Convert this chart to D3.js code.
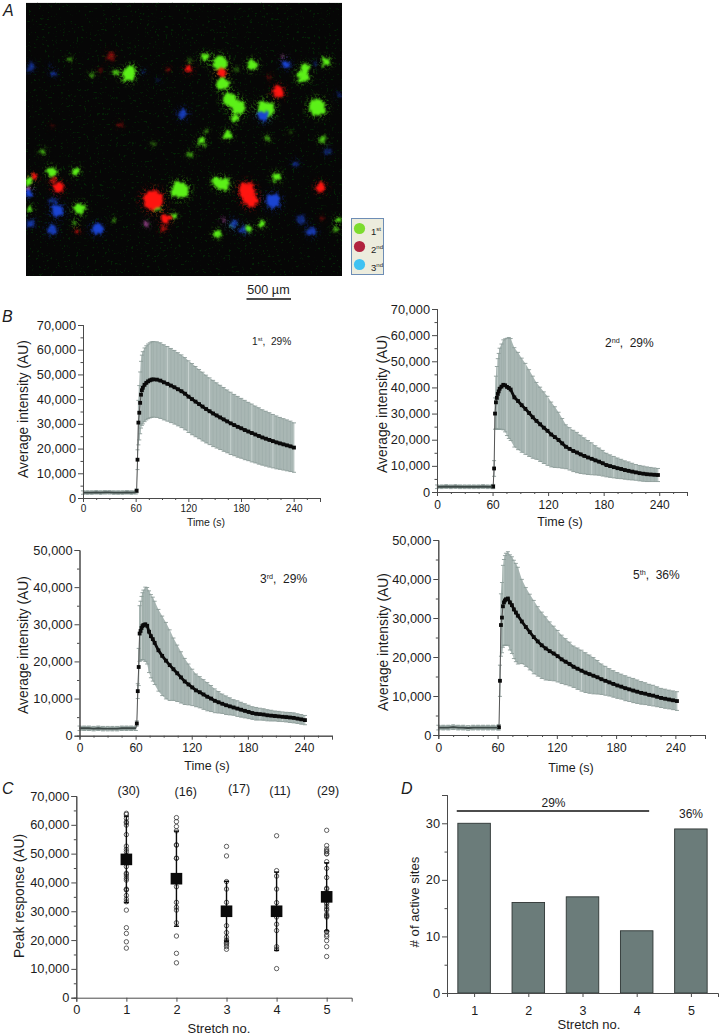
<!DOCTYPE html>
<html><head><meta charset="utf-8">
<script src="https://cdn.jsdelivr.net/npm/d3@7/dist/d3.min.js"></script>
<style>
html,body{margin:0;padding:0;background:#fff}
svg{display:block}
text{font-family:"Liberation Sans",Arial,sans-serif;fill:#1c1c1c}
</style></head><body>
<svg id="fig" width="720" height="1035"></svg>
<script>
const greenSpots=[[660,190,22],[385,225,19],[395,205,10],[615,172,13],[757,195,15],[668,250,19],[978,185,12],[910,228,18],[915,205,13],[690,300,21],[715,322,21],[706,355,12],[797,327,25],[952,322,25],[683,405,12],[605,425,11],[570,462,9,.6],[968,418,11,.75],[803,415,8,.6],[620,392,5,.5],[460,432,7,.35],[128,455,9,.6],[155,516,14],[228,515,11],[85,543,13],[540,570,25],[670,552,19],[650,545,12],[830,530,12],[472,620,12],[238,626,16],[88,628,9],[520,648,8],[225,670,6],[342,660,5,.6],[650,702,10],[745,686,8],[785,672,9],[695,678,5],[1015,660,8],[1010,686,8,.7],[350,218,9,.8],[275,225,7,.6],[210,178,6,.6],[870,395,6,.35],[710,208,7,.35],[570,183,6,.4]];
const redSpots=[[458,600,29],[740,572,23],[752,600,21],[835,275,16],[962,562,13],[175,562,15],[160,540,8,.6],[100,530,9],[665,218,13],[566,207,9],[497,655,13],[488,688,7,.75],[232,692,6,.75],[332,168,12,.42],[360,375,7,.38],[155,378,6,.22],[808,230,4,.5],[505,208,4,.5],[300,210,5,.3],[966,655,6,.28]];
const blueSpots=[[820,603,21],[172,632,18],[158,600,10,.5],[292,686,16],[155,690,14,.85],[92,670,11,.75],[548,342,14,.85],[790,348,15],[887,490,9,.55],[982,455,10,.45],[90,203,11,.6],[160,220,7,.65],[150,197,5,.4],[858,192,11],[1018,285,9,.4],[700,672,13,.7],[730,690,12,.7],[905,660,11,.55],[935,695,13,.8],[85,578,11],[475,240,7,.3],[945,190,7,.4],[430,215,5,.7]];
const pinkSpots=[[85,565,7],[440,672,7,.7],[670,660,4,.7],[850,172,5,.7]];
const legendItems=[["1","st","#7cdc2e"],["2","nd","#b1233f"],["3","nd","#3fc2f2"]];

// ---------- Panels B: shared time base (s), then mean and SD per stretch (x 1000 AU)
const times=[0,5,10,15,20,25,30,35,40,45,50,55,60,61,62,63,64,65,66,67,68,70,72,74,76,78,80,84,88,92,96,100,104,108,112,116,120,124,128,132,136,140,144,148,152,156,160,164,168,172,176,180,184,188,192,196,200,204,208,212,216,220,224,228,232,236,240];
const mean1=[2.2,2.2,2.2,2.3,2.2,2.3,2.3,2.2,2.2,2.2,2.3,2.2,2.3,2.9,15.5,30.5,34.5,38.5,41.8,43.6,44.6,45.8,46.6,47.2,47.6,47.9,48.0,47.9,47.5,46.8,46.2,45.5,44.8,44.0,43.2,42.2,41.0,40.0,39.0,38.0,37.0,36.0,35.1,34.2,33.4,32.6,31.8,31.0,30.2,29.5,28.8,28.2,27.5,26.9,26.3,25.7,25.1,24.5,24.0,23.5,23.0,22.5,22.1,21.7,21.3,20.9,20.4];
const sd1=[.7,.7,.7,.7,.7,.7,.7,.7,.7,.7,.7,.7,.7,.8,4,9,11,12.5,13.5,14.2,14.6,14.9,15.0,15.1,15.2,15.3,15.3,15.3,15.3,15.2,15.1,15.0,14.9,14.8,14.7,14.6,14.5,14.4,14.2,14.0,13.9,13.7,13.5,13.4,13.2,13.0,12.9,12.7,12.6,12.4,12.3,12.1,12.0,11.8,11.7,11.5,11.4,11.2,11.1,11.0,10.8,10.7,10.5,10.4,10.3,10.2,10.0];
const mean2=[2,2,2.1,2,2.1,2,2,2,2,2,2.1,2,2,2.1,9,30,34.3,36,37.5,38.5,39.5,40.3,41,40.8,40.2,39.8,39.2,36.2,34.8,33.2,31.8,30.2,28.6,27.2,25.9,24.6,23.4,22,21,19.9,18.6,17.3,16.5,15.7,15.1,14.4,13.8,13.2,12.7,12.1,11.6,11,10.3,9.9,9.5,9.1,8.8,8.4,8.1,7.8,7.5,7.2,7.0,6.8,6.7,6.6,6.5];
const sd2=[.7,.7,.7,.7,.7,.7,.7,.7,.7,.7,.7,.7,.7,.8,3,6,10,12,13.5,14.5,15.5,16.3,17.2,17.8,18.6,19.3,19.5,19.0,18.6,18.0,17.4,16.6,15.7,14.7,14.2,13.7,13.2,12.4,11.6,10.6,9.5,8.4,8.1,7.9,7.7,7.3,6.9,6.5,6.1,5.6,5.2,4.9,4.5,4.3,4.1,3.9,3.7,3.5,3.4,3.2,3.0,2.95,2.9,2.8,2.7,2.6,2.5];
const mean3=[2,2,2,1.9,2,1.9,1.9,1.9,1.9,2,2,2,2,3.3,12,18.5,27.5,28.2,29,29.5,29.8,30,29.6,28,26.8,26,25,23,21.5,20.2,19,17.9,16.8,15.7,14.6,13.8,13,12.2,11.7,11.1,10.5,10,9.4,9,8.6,8.2,7.9,7.6,7.3,7,6.7,6.4,6.1,5.9,5.8,5.7,5.5,5.4,5.3,5.2,5.1,5,4.9,4.8,4.6,4.4,4.2];
const sd3=[.6,.6,.6,.6,.6,.6,.6,.6,.6,.6,.6,.6,.6,.7,2,5,7.5,8,8.5,9,9.4,10,10.3,11,11.2,11.3,11.2,11,10.7,10.3,9.5,8.4,7.6,6.9,6.2,5.5,4.9,4.4,4.2,4,3.8,3.5,3.2,2.9,2.6,2.5,2.3,2.1,2.1,2,1.9,1.8,1.7,1.7,1.6,1.55,1.5,1.45,1.35,1.35,1.3,1.3,1.35,1.35,1.3,1.3,1.25];
const mean5=[1.9,1.9,1.9,2,1.9,1.9,1.8,1.9,1.9,1.9,1.9,1.9,1.9,2,13.9,28.2,30.1,33,34,34.5,34.8,35,34,33.3,32.2,31.4,30.6,29.1,27.7,26.4,25.1,24,23,22.2,21.5,20.9,20.2,19.4,18.8,18.2,17.5,17,16.5,16,15.6,15.2,14.8,14.3,13.9,13.5,13.1,12.7,12.4,12,11.7,11.4,11.1,10.8,10.6,10.3,10.1,9.8,9.5,9.3,9.1,8.9,8.7];
const sd5=[.6,.6,.6,.6,.6,.6,.6,.6,.6,.6,.6,.6,.6,.7,4,8,9,10.5,11,11.5,11.8,12,12.2,12.4,12.6,12.6,12.4,10.8,10.1,9.7,9.4,8.9,8.5,8.1,7.5,7.0,6.6,6.2,5.9,5.6,5.3,5.3,5.25,5.1,4.9,4.65,4.3,3.9,3.7,3.5,3.4,3.3,3.2,3.2,3.1,3.1,3.0,2.9,2.8,2.7,2.65,2.55,2.45,2.45,2.4,2.4,2.4];
const timeTicks=[0,60,120,180,240];
const timeMinorTicks=[15,30,45,75,90,105,135,150,165,195,210,225,255,270];

// ---------- Panel C: individual peak responses per stretch (AU), means, SDs
const stretchNos=[1,2,3,4,5];
const peaks1=[64000,63600,62200,61000,60700,59900,56600,52600,51500,50700,49500,48300,47200,45500,43200,42900,42200,41400,40800,37700,37500,37400,35500,34200,33300,30400,24300,22300,19400,17200];
const peaks2=[62500,61100,59400,57900,53000,53000,48400,48400,38500,33100,31400,30400,26000,21400,15400,12100];
const peaks3=[52500,49200,40300,37700,33100,31000,29000,25000,22600,21000,20000,19700,19200,18800,18300,17700,16800];
const peaks4=[56200,44100,42200,37700,33000,28000,25500,23300,17700,16900,10100];
const peaks5=[58100,52800,51600,51000,50000,49900,47200,44900,41700,38000,37700,36400,33000,32500,31600,30400,29000,28500,28000,23000,22900,21800,21200,19800,17700,14300,50700,28300,30800];
const peakMeans=[48000,41300,30000,30000,35000];
const peakSDs=[15000,16500,10400,13600,11800];
const siteCountLabels=["(30)","(16)","(17)","(11)","(29)"];

// ---------- Panel D
const activeSites=[30,16,17,11,29];

const svg=d3.select("#fig");
const fmt=d3.format(",");
function label(t,x,y,size,opt={}){
  const e=svg.append("text").attr("x",x).attr("y",y).attr("font-size",size).attr("text-anchor",opt.anchor||"middle").text(t);
  if(opt.italic)e.attr("font-style","italic");
  if(opt.rotate)e.attr("transform",`rotate(-90 ${x} ${y})`);
  return e;
}
function axisStyle(g){
  g.selectAll("path.domain").attr("stroke","#4a4a4a").attr("stroke-width",1);
  g.selectAll(".tick line").attr("stroke","#4a4a4a").attr("stroke-width",1);
  g.selectAll("text").attr("fill","#1c1c1c");
}
function drawAxes(x,y,o){
  const gy=svg.append("g").attr("transform",`translate(${o.x0},0)`);
  gy.append("g").call(d3.axisLeft(y).tickValues(o.yMinor).tickSize(2.5).tickFormat("")).call(axisStyle);
  gy.append("g").call(d3.axisLeft(y).tickValues(o.yTicks).tickSize(5).tickPadding(2).tickFormat(o.yFmt||fmt))
    .call(axisStyle).selectAll("text").attr("font-size",o.yFont).attr("font-family",'"Liberation Sans"');
  const gx=svg.append("g").attr("transform",`translate(0,${o.y0})`);
  if(o.xMinor.length) gx.append("g").call(d3.axisBottom(x).tickValues(o.xMinor).tickSize(2).tickFormat("")).call(axisStyle);
  gx.append("g").call(d3.axisBottom(x).tickValues(o.xTicks).tickSize(o.xTickLen||4).tickPadding(o.xPad||3).tickFormat(d3.format("d")))
    .call(axisStyle).selectAll("text").attr("font-size",o.xFont).attr("font-family",'"Liberation Sans"');
}

// ---------- A: micrograph
const ax=d3.scaleLinear().domain([78,1026]).range([26,342]);
const ay=d3.scaleLinear().domain([8,828]).range([2.7,276]);
const ar=d3.scaleLinear().domain([0,948]).range([0,316]);
const defs=svg.append("defs");
defs.append("clipPath").attr("id","imgclip").append("rect").attr("x",26).attr("y",2.7).attr("width",316).attr("height",273.3);
const fR={filterUnits:"userSpaceOnUse",x:26,y:2,width:316,height:275};
// compact cores with rough edges
const fc=defs.append("filter").attr("id","spotCore").attr("color-interpolation-filters","sRGB");
Object.entries(fR).forEach(([k,v])=>fc.attr(k,v));
fc.append("feTurbulence").attr("type","fractalNoise").attr("baseFrequency",.2).attr("numOctaves",2).attr("seed",7).attr("result","n");
fc.append("feDisplacementMap").attr("in","SourceGraphic").attr("in2","n").attr("scale",7).attr("xChannelSelector","R").attr("yChannelSelector","G").attr("result","d");
fc.append("feGaussianBlur").attr("in","d").attr("stdDeviation",.9);
// halos broken into speckle by a noise mask
const fh=defs.append("filter").attr("id","spotHalo").attr("color-interpolation-filters","sRGB");
Object.entries(fR).forEach(([k,v])=>fh.attr(k,v));
fh.append("feGaussianBlur").attr("in","SourceGraphic").attr("stdDeviation",2.6).attr("result","b");
fh.append("feTurbulence").attr("type","fractalNoise").attr("baseFrequency",.45).attr("numOctaves",2).attr("seed",3);
fh.append("feColorMatrix").attr("type","matrix").attr("values","0 0 0 0 1  0 0 0 0 1  0 0 0 0 1  9 0 0 0 -4.6").attr("result","m");
fh.append("feComposite").attr("in","b").attr("in2","m").attr("operator","in").attr("result","c");
fh.append("feGaussianBlur").attr("in","c").attr("stdDeviation",.6);
// faint grain across the tissue band
const sp=defs.append("filter").attr("id","speckle").attr("color-interpolation-filters","sRGB");
Object.entries(fR).forEach(([k,v])=>sp.attr(k,v));
sp.append("feTurbulence").attr("type","fractalNoise").attr("baseFrequency",.38).attr("numOctaves",2).attr("seed",11);
sp.append("feColorMatrix").attr("type","matrix").attr("values","0 0 0 0 0.02  0 0 0 0 0.2  0 0 0 0 0.03  9 0 0 0 -5.9");
sp.append("feGaussianBlur").attr("stdDeviation",.55);
const img=svg.append("g").attr("clip-path","url(#imgclip)");
img.append("rect").attr("x",26).attr("y",2.7).attr("width",316).attr("height",273.3).attr("fill","#060606");
img.append("rect").attr("x",26).attr("y",ay(145)).attr("width",316).attr("height",ay(715)-ay(145)).attr("fill","#000").attr("filter","url(#speckle)").attr("opacity",.7);
const sets=[[greenSpots,"#5cf018"],[blueSpots,"#1a44d2"],[redSpots,"#ff1510"],[pinkSpots,"#c85ab8"]];
const halo=img.append("g").attr("filter","url(#spotHalo)");
sets.forEach(([data,c])=>halo.selectAll(null).data(data).join("circle")
  .attr("cx",d=>ax(d[0])).attr("cy",d=>ay(d[1])).attr("r",d=>ar(d[2]*1.3+7)).attr("fill",c).attr("opacity",d=>.34*(d[3]||1)));
const core=img.append("g").attr("filter","url(#spotCore)");
sets.forEach(([data,c])=>core.selectAll(null).data(data).join("circle")
  .attr("cx",d=>ax(d[0])).attr("cy",d=>ay(d[1])).attr("r",d=>ar(d[2])).attr("fill",c).attr("opacity",d=>d[3]||1));
// legend
svg.append("rect").attr("x",351.5).attr("y",218.5).attr("width",32).attr("height",56).attr("fill","#ececdd").attr("stroke","#6d8db5").attr("stroke-width",1);
legendItems.forEach((d,i)=>{
  const cy=228.5+i*18;
  svg.append("circle").attr("cx",359.5).attr("cy",cy).attr("r",5.6).attr("fill",d[2]);
  const t=svg.append("text").attr("x",371).attr("y",cy+6).attr("font-size",9.5).attr("fill","#444");
  t.append("tspan").text(d[0]);
  t.append("tspan").attr("font-size",6).attr("dy",-3.5).text(d[1]);
});
label("500 µm",268.5,294,12.6);
svg.append("line").attr("x1",246.5).attr("x2",291).attr("y1",299).attr("y2",299).attr("stroke","#111").attr("stroke-width",1.6);

// ---------- B: time courses
const panelsB=[
 {mean:mean1,sd:sd1,yMax:70,x0:83,x240:294,yTop:325,y0:498,xEnd:320,yFont:12.8,xFont:10,yT:[28,409,13.8],tT:[206,526,10.5],ann:["1","st",",  29%",252,345,10.2]},
 {mean:mean2,sd:sd2,yMax:70,x0:437,x240:658,yTop:309,y0:492,xEnd:687,yFont:12.8,xFont:12,yT:[387,404,13.8],tT:[560,526,12.5],ann:["2","nd",",  29%",605,347,12]},
 {mean:mean3,sd:sd3,yMax:50,x0:79.5,x240:305,yTop:550,y0:735.7,xEnd:332,yFont:12.8,xFont:12,yT:[28,645,13.8],tT:[207,770,12.5],ann:["3","rd",",  29%",260,583,12]},
 {mean:mean5,sd:sd5,yMax:50,x0:438.3,x240:677,yTop:540,y0:735,xEnd:705,yFont:12.8,xFont:12,yT:[388,642,13.8],tT:[571,772,12.5],ann:["5","th",",  36%",633,579,12]}
];
panelsB.forEach(p=>{
  const x=d3.scaleLinear().domain([0,240]).range([p.x0,p.x240]);
  const y=d3.scaleLinear().domain([0,p.yMax*1000]).range([p.y0,p.yTop]);
  const pts=times.map((t,i)=>({t,m:p.mean[i]*1000,s:p.sd[i]*1000}));
  const area=d3.area().x(d=>x(d.t)).y0(d=>y(d.m-d.s)).y1(d=>y(d.m+d.s));
  svg.append("path").attr("d",area(pts)).attr("fill","#a9b7b4");
  const g=svg.append("g");
  g.selectAll("line.e").data(pts).join("line").attr("class","e")
    .attr("x1",d=>x(d.t)).attr("x2",d=>x(d.t)).attr("y1",d=>y(d.m-d.s)).attr("y2",d=>y(d.m+d.s))
    .attr("stroke",(d,i)=>i%6===0?"#c6d0ce":"#a0afac").attr("stroke-width",1);
  [1,-1].forEach(sign=>{
    g.selectAll(null).data(pts).join("line")
      .attr("x1",d=>x(d.t)-2).attr("x2",d=>x(d.t)+2).attr("y1",d=>y(d.m+sign*d.s)).attr("y2",d=>y(d.m+sign*d.s))
      .attr("stroke","#8c9c99").attr("stroke-width",.9);
  });
  svg.append("path").attr("d",d3.line().x(d=>x(d.t)).y(d=>y(d.m))(pts)).attr("fill","none").attr("stroke","#555").attr("stroke-width",1);
  svg.append("path").attr("d",d3.line().x(d=>x(d.t)).y(d=>y(d.m))(pts.filter(d=>d.t>=68))).attr("fill","none").attr("stroke","#0c0c0c").attr("stroke-width",2.8);
  const ms=3.8;
  svg.append("g").selectAll("rect").data(pts.filter(d=>d.t>60)).join("rect")
    .attr("x",d=>x(d.t)-ms/2).attr("y",d=>y(d.m)-ms/2).attr("width",ms).attr("height",ms).attr("fill","#0a0a0a");
  svg.append("path").attr("d",d3.line().x(d=>x(d.t)).y(d=>y(d.m))(pts.filter(d=>d.t<=60))).attr("fill","none").attr("stroke","#3c4846").attr("stroke-width",1.8);
  const xa=d3.scaleLinear().domain([0,270]).range([p.x0,p.xEnd]);
  drawAxes(xa,y,{x0:p.x0,y0:p.y0,yTicks:d3.range(0,p.yMax*1000+1,10000),yMinor:d3.range(5000,p.yMax*1000,10000),
    xTicks:timeTicks,xMinor:timeMinorTicks,yFont:p.yFont,xFont:p.xFont,xPad:p.xFont>10?4:3});
  label("Average intensity (AU)",p.yT[0],p.yT[1],p.yT[2],{rotate:true});
  label("Time (s)",p.tT[0],p.tT[1],p.tT[2]);
  const a=p.ann,t=svg.append("text").attr("x",a[3]).attr("y",a[4]).attr("font-size",a[5]);
  t.append("tspan").text(a[0]);
  t.append("tspan").attr("font-size",a[5]*.6).attr("dy",-4).text(a[1]);
  t.append("tspan").attr("dy",4).attr("xml:space","preserve").style("white-space","pre").text(a[2]);
});

// ---------- C: peak responses
{
  const x=d3.scaleLinear().domain([0,5.5]).range([76.3,351.7]);
  const y=d3.scaleLinear().domain([0,70000]).range([997.7,796]);
  const all=[peaks1,peaks2,peaks3,peaks4,peaks5];
  all.forEach((vals,i)=>{
    svg.append("g").selectAll("circle").data(vals).join("circle")
      .attr("cx",x(stretchNos[i])).attr("cy",d=>y(d)).attr("r",2.2).attr("fill","none").attr("stroke","#3a3a3a").attr("stroke-width",.8);
    const m=peakMeans[i],s=peakSDs[i],cx=x(stretchNos[i]);
    const g=svg.append("g").attr("stroke","#0a0a0a").attr("stroke-width",1.4);
    g.append("line").attr("x1",cx).attr("x2",cx).attr("y1",y(m-s)).attr("y2",y(m+s));
    [m-s,m+s].forEach(v=>g.append("line").attr("x1",cx-2.5).attr("x2",cx+2.5).attr("y1",y(v)).attr("y2",y(v)));
    svg.append("rect").attr("x",cx-5.8).attr("y",y(m)-5.8).attr("width",11.6).attr("height",11.6).attr("fill","#0a0a0a");
  });
  drawAxes(x,y,{x0:76.3,y0:997.7,yTicks:d3.range(0,70001,10000),yMinor:d3.range(5000,70000,10000),xTicks:stretchNos.concat([0]),xMinor:[],yFont:12.8,xFont:12.8,xPad:3});
  label("Peak response (AU)",24,896,13.8,{rotate:true});
  label("Stretch no.",219,1033,13);
  const labelX=[128.7,185.7,239,280,328],labelY=[795,796,793,795,795];
  siteCountLabels.forEach((s,i)=>label(s,labelX[i],labelY[i],12.5));
}

// ---------- D: active sites
{
  const x=d3.scaleLinear().domain([.5,5.5]).range([447,718]);
  const y=d3.scaleLinear().domain([0,35]).range([993,795]);
  const bw=x(1.6)-x(1);
  svg.append("g").selectAll("rect").data(activeSites).join("rect")
    .attr("x",(d,i)=>x(stretchNos[i])-bw/2).attr("y",d=>y(d)).attr("width",bw).attr("height",d=>y(0)-y(d))
    .attr("fill","#6b7c7a").attr("stroke","#2e3534").attr("stroke-width",.9);
  drawAxes(x,y,{x0:447,y0:993,yTicks:[0,10,20,30],yMinor:[5,15,25],yFmt:d3.format("d"),xTicks:stretchNos,xMinor:[],yFont:12.8,xFont:12.5,xTickLen:0,xPad:9});
  label("# of active sites",419,902,13.2,{rotate:true});
  label("Stretch no.",589,1029,13);
  label("29%",553.5,807,12);
  svg.append("line").attr("x1",x(.68)).attr("x2",x(4.23)).attr("y1",811).attr("y2",811).attr("stroke","#111").attr("stroke-width",1.3);
  label("36%",691,818,12);
}

// ---------- panel letters
label("A",3,16,16,{anchor:"start",italic:true});
label("B",2,322,16,{anchor:"start",italic:true});
label("C",2,794,16,{anchor:"start",italic:true});
label("D",401,794,16,{anchor:"start",italic:true});
</script></body></html>
